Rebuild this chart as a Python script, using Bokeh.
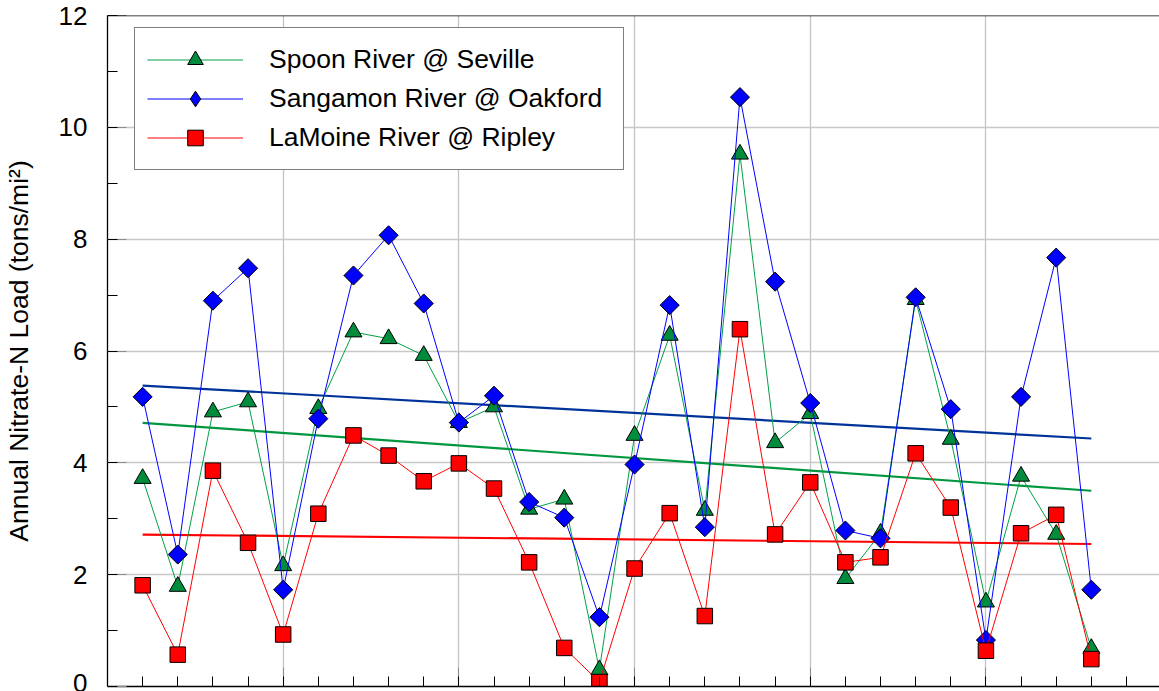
import numpy as np
from bokeh.plotting import figure
from bokeh.models import (ColumnDataSource, SingleIntervalTicker, Legend, LegendItem,
                          Span, Range1d, CustomJSTickFormatter)
from bokeh.embed import file_html
from bokeh.resources import INLINE

# ---- data ----
index = list(range(1, 29))
spoon = [3.72, 1.79, 4.91, 5.09, 2.16, 4.97, 6.34, 6.22, 5.92, 4.72,
         5.00, 3.17, 3.35, 0.30, 4.49, 6.28, 3.15, 9.52, 4.36, 4.88,
         1.93, 2.74, 6.92, 4.42, 1.51, 3.76, 2.72, 0.68]
sangamon = [5.18, 2.36, 6.90, 7.48, 1.73, 4.79, 7.35, 8.07, 6.85, 4.72,
            5.20, 3.30, 3.02, 1.24, 3.97, 6.82, 2.85, 10.54, 7.24, 5.07,
            2.79, 2.65, 6.96, 4.96, 0.83, 5.18, 7.67, 1.73]
lamoine = [1.81, 0.57, 3.86, 2.57, 0.93, 3.09, 4.49, 4.13, 3.67, 3.99,
           3.54, 2.22, 0.69, 0.08, 2.11, 3.10, 1.26, 6.39, 2.72, 3.65,
           2.22, 2.31, 4.17, 3.20, 0.64, 2.74, 3.07, 0.49]
series_names = ["Spoon River @ Seville", "Sangamon River @ Oakford", "LaMoine River @ Ripley"]
y_label = "Annual Nitrate-N Load (tons/mi\u00b2)"

FONT = "Liberation Sans"

p = figure(width=1159, height=691, output_backend="svg", toolbar_location=None,
           x_range=Range1d(0, 29.94), y_range=Range1d(0, 12),
           min_border_left=107, min_border_right=0, min_border_top=15, min_border_bottom=5)
p.outline_line_color = None
p.background_fill_color = "white"
p.border_fill_color = "white"

# axes
xax = p.xaxis[0]
xax.ticker = SingleIntervalTicker(interval=5, num_minor_ticks=5)
xax.formatter = CustomJSTickFormatter(code="return ''")
xax.major_label_text_font_size = "1px"
xax.major_label_standoff = 0
xax.major_tick_in = 19
xax.major_tick_out = 0
xax.minor_tick_in = 10
xax.minor_tick_out = 0
xax.major_tick_line_color = "#8c8c8c"
xax.minor_tick_line_color = "black"
xax.axis_line_color = "black"
xax.axis_line_width = 1.3

yax = p.yaxis[0]
yax.ticker = SingleIntervalTicker(interval=2, num_minor_ticks=2)
yax.major_tick_in = 19
yax.major_tick_out = 0
yax.minor_tick_in = 10
yax.minor_tick_out = 0
yax.major_tick_line_color = "#8c8c8c"
yax.minor_tick_line_color = "black"
yax.axis_line_color = "black"
yax.axis_line_width = 1.3
yax.major_label_text_font = FONT
yax.major_label_text_font_size = "26px"
yax.major_label_text_color = "black"
yax.major_label_standoff = 20
yax.axis_label = y_label
yax.axis_label_text_font = FONT
yax.axis_label_text_font_size = "26.5px"
yax.axis_label_text_font_style = "normal"
yax.axis_label_text_color = "black"
yax.axis_label_standoff = 22

p.xgrid.grid_line_color = "#c4c4c4"
p.xgrid.grid_line_width = 1.3
p.ygrid.grid_line_color = "#c8c8c8"
p.ygrid.grid_line_width = 1.3

p.add_layout(Span(location=12, dimension="width", line_color="black", line_width=1.5))

# trend lines (least squares fits of each series)
x_arr = np.array(index, dtype=float)
trend_specs = [(spoon, "#00973F"), (sangamon, "#003399"), (lamoine, "#FF0000")]
for vals, col in trend_specs:
    m, b = np.polyfit(x_arr, np.array(vals), 1)
    xs = [index[0], index[-1]]
    p.line(xs, [m * xs[0] + b, m * xs[1] + b], line_color=col, line_width=2.2)

src = ColumnDataSource(dict(x=index, spoon=spoon, sangamon=sangamon, lamoine=lamoine))

items = []
l1 = p.line("x", "spoon", source=src, line_color="#00A046", line_width=1)
s1 = p.scatter("x", "spoon", source=src, marker="triangle", size=17,
               fill_color="#008C3C", line_color="black", line_width=1)
items.append(LegendItem(label=series_names[0], renderers=[l1, s1]))

l2 = p.line("x", "sangamon", source=src, line_color="#0000FF", line_width=1)
# diamond glyph used for the legend key (tiny in the plot, hidden under the markers)
d2 = p.scatter("x", "sangamon", source=src, marker="diamond", size=1,
               fill_color="#0000FF", line_color="black", line_width=1)
s2 = p.scatter("x", "sangamon", source=src, marker="square", angle=np.pi / 4, size=13.5,
               fill_color="#0000FF", line_color="black", line_width=1)
items.append(LegendItem(label=series_names[1], renderers=[l2, d2]))

l3 = p.line("x", "lamoine", source=src, line_color="#FF0000", line_width=1)
s3 = p.scatter("x", "lamoine", source=src, marker="square", size=15.5,
               fill_color="#FF0000", line_color="black", line_width=1)
items.append(LegendItem(label=series_names[2], renderers=[l3, s3]))

legend = Legend(items=items, location=(27, 516))
legend.label_text_font = FONT
legend.label_text_font_size = "26.5px"
legend.label_text_color = "black"
legend.glyph_width = 96
legend.glyph_height = 39
legend.label_height = 39
legend.label_width = 342
legend.label_standoff = 26
legend.spacing = 0
legend.padding = 12
legend.border_line_color = "black"
legend.border_line_width = 1
legend.background_fill_color = "white"
legend.background_fill_alpha = 1.0
p.add_layout(legend)

open("out.html", "w").write(file_html(p, INLINE))
